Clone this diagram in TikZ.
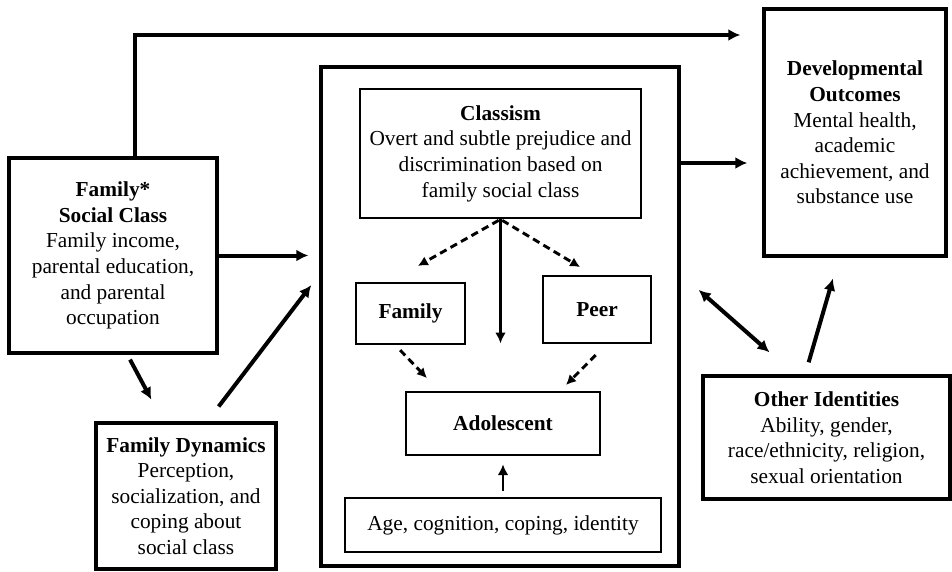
\documentclass[tikz,border=0pt]{standalone}
\usepackage{fontspec}
\setmainfont{Liberation Serif}
\usetikzlibrary{arrows.meta}
\tikzset{
  bigbox/.style={draw,line width=2.5pt,align=center,inner sep=0pt},
  smallbox/.style={draw,line width=2pt,align=center,inner sep=0pt},
  arr/.style={line width=3pt,->},
  inarr/.style={line width=2.1pt,-{Latex[length=8pt,width=8pt]}},
  dasharr/.style={line width=2.2pt,dash pattern=on 5.5pt off 3.5pt,-{Latex[length=7.5pt,width=7.5pt]}},
}
\begin{document}
\begin{tikzpicture}[x=0.75pt,y=-0.75pt,line join=miter,>={Latex[length=9pt,width=9pt]},
  every node/.style={font=\fontsize{16}{19.2}\selectfont}]
  \useasboundingbox (0,0) rectangle (952,571);
  % boxes
  \node[bigbox,minimum width=268.5pt,minimum height=374.25pt] (ctx) at (500,316.5) {};
  \node[bigbox,minimum width=156pt,minimum height=146.25pt] (fsc) at (113,255.5)
    {\textbf{Family*}\\\textbf{Social Class}\\Family income,\\parental education,\\and parental\\occupation};
  \node[bigbox,minimum width=136.5pt,minimum height=185.25pt] (dev) at (855,132.5)
    {\textbf{Developmental}\\\textbf{Outcomes}\\Mental health,\\academic\\achievement, and\\substance use};
  \node[bigbox,minimum width=135pt,minimum height=109.5pt] (fdyn) at (186,496)
    {\textbf{Family Dynamics}\\Perception,\\socialization, and\\coping about\\social class};
  \node[bigbox,minimum width=185.25pt,minimum height=92.25pt] (other) at (826.5,437.5)
    {\textbf{Other Identities}\\Ability, gender,\\race/ethnicity, religion,\\sexual orientation};
  \node[smallbox,minimum width=210.75pt,minimum height=96.75pt] (cls) at (500.5,153.5)
    {\textbf{Classism}\\Overt and subtle prejudice and\\discrimination based on\\family social class};
  \node[smallbox,minimum width=81.75pt,minimum height=45.75pt] (fam) at (410.5,313.5) {\textbf{Family}};
  \node[smallbox,minimum width=81pt,minimum height=50.25pt] (peer) at (597,309.5) {\textbf{Peer}};
  \node[smallbox,minimum width=145.5pt,minimum height=47.25pt] (adol) at (503,423.5) {\textbf{Adolescent}};
  \node[smallbox,minimum width=237pt,minimum height=40.5pt] (age) at (503,525) {Age, cognition, coping, identity};
  % outer arrows
  \draw[arr,shorten >=16.5pt] ([xshift=16.5pt]fsc.north) |- (dev.west |- 0,35);
  \draw[arr,shorten >=8.25pt] (fsc.east) -- (ctx.west |- fsc.east);
  \draw[arr,shorten >=11.25pt] (ctx.east |- 0,163) -- (dev.west |- 0,163);
  \draw[arr,shorten <=4.2pt,shorten >=18.5pt] ([xshift=10.8pt]fsc.south) -- ([xshift=-17.25pt]fdyn.north);
  \draw[arr,shorten <=14pt,shorten >=10pt] ([xshift=16pt]fdyn.north) -- (ctx.west |- 0,274.5);
  \draw[arr,<->,shorten <=18pt,shorten >=25pt] (ctx.east |- 0,274) -- ([xshift=-24pt]other.north);
  \draw[arr,shorten <=9.4pt,shorten >=16.3pt] ([xshift=-16pt]other.north) -- ([xshift=-12pt]dev.south);
  % inner arrows
  \draw[dasharr,shorten <=1.5pt,shorten >=24pt] (cls.south) -- ([xshift=-15.4pt]fam.north);
  \draw[dasharr,shorten <=1.5pt,shorten >=11pt] (cls.south) -- ([xshift=-3.2pt]peer.north);
  \draw[inarr,shorten >=1.5pt] (cls.south) -- (cls.south |- fam.south);
  \draw[dasharr,shorten <=5pt,shorten >=13pt] ([xshift=-11.25pt]fam.south) -- ([xshift=-48pt]adol.north);
  \draw[dasharr,shorten <=11.3pt,shorten >=6pt] ([xshift=7pt]peer.south) -- ([xshift=43pt]adol.north);
  \draw[inarr,shorten <=4.5pt,shorten >=6pt] (age.north) -- (adol.south);
\end{tikzpicture}
\end{document}
